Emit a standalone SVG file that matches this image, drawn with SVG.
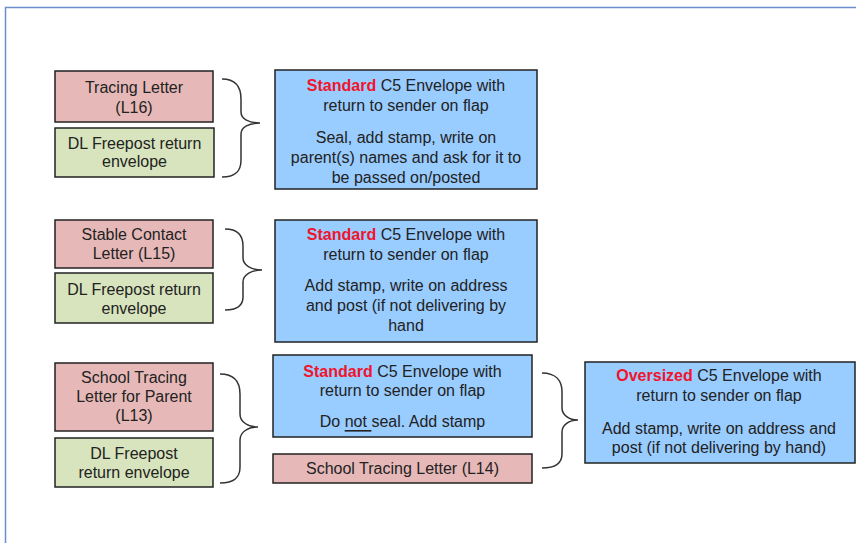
<svg xmlns="http://www.w3.org/2000/svg" width="856" height="543" viewBox="0 0 856 543">
<style>
text{font-family:"Liberation Sans",Arial,sans-serif;font-size:16px;fill:#222;text-anchor:middle;dominant-baseline:central}
.b{stroke:#222;stroke-width:1.5}
.pink{fill:#E6B9B8}
.green{fill:#D7E4BD}
.blue{fill:#99CCFF}
.red{fill:#F0142C;font-weight:bold}
.brace{fill:none;stroke:#333;stroke-width:1.5}
</style>
<rect width="856" height="543" fill="#fff"/>
<path d="M5.5,543 V7.5 H856" fill="none" stroke="#6A8FCC" stroke-width="1.5"/>

<g id="n-l16">
<rect class="b pink" x="55" y="71" width="158" height="51"/>
<text x="134" y="87">Tracing Letter</text>
<text x="134" y="107">(L16)</text>
</g>
<g id="n-dl1">
<rect class="b green" x="55" y="128" width="159" height="49"/>
<text x="134.5" y="143">DL Freepost return</text>
<text x="134.5" y="161">envelope</text>
</g>
<g id="n-env1">
<rect class="b blue" x="275" y="70" width="262" height="119"/>
<text x="406" y="85"><tspan class="red">Standard</tspan> C5 Envelope with</text>
<text x="406" y="105">return to sender on flap</text>
<text x="406" y="137">Seal, add stamp, write on</text>
<text x="406" y="157">parent(s) names and ask for it to</text>
<text x="406" y="177">be passed on/posted</text>
</g>

<g id="n-l15">
<rect class="b pink" x="55" y="220" width="158" height="48"/>
<text x="134" y="234">Stable Contact</text>
<text x="134" y="253">Letter (L15)</text>
</g>
<g id="n-dl2">
<rect class="b green" x="55" y="273" width="158" height="50"/>
<text x="134" y="289">DL Freepost return</text>
<text x="134" y="308">envelope</text>
</g>
<g id="n-env2">
<rect class="b blue" x="275" y="220" width="262" height="122"/>
<text x="406" y="234"><tspan class="red">Standard</tspan> C5 Envelope with</text>
<text x="406" y="254">return to sender on flap</text>
<text x="406" y="285">Add stamp, write on address</text>
<text x="406" y="305">and post (if not delivering by</text>
<text x="406" y="325">hand</text>
</g>

<g id="n-l13">
<rect class="b pink" x="55" y="363" width="158" height="68"/>
<text x="134" y="377">School Tracing</text>
<text x="134" y="396">Letter for Parent</text>
<text x="134" y="415">(L13)</text>
</g>
<g id="n-dl3">
<rect class="b green" x="55" y="438" width="158" height="49"/>
<text x="134" y="453">DL Freepost</text>
<text x="134" y="472">return envelope</text>
</g>
<g id="n-env3">
<rect class="b blue" x="273" y="355" width="259" height="82"/>
<text x="402.5" y="371"><tspan class="red">Standard</tspan> C5 Envelope with</text>
<text x="402.5" y="390">return to sender on flap</text>
<text x="402.5" y="421">Do <tspan text-decoration="underline">not </tspan>seal. Add stamp</text>
</g>
<g id="n-l14">
<rect class="b pink" x="273" y="454" width="259" height="29"/>
<text x="402.5" y="468">School Tracing Letter (L14)</text>
</g>
<g id="n-oversized">
<rect class="b blue" x="585" y="362" width="270" height="101"/>
<text x="719" y="375"><tspan class="red">Oversized</tspan> C5 Envelope with</text>
<text x="719" y="395">return to sender on flap</text>
<text x="719" y="428">Add stamp, write on address and</text>
<text x="719" y="447">post (if not delivering by hand)</text>
</g>

<g id="connectors">
<path class="brace" d="M222,79 C236,79 241,87 241,99 L241,112 C241,119 249,123 260,123 C249,123 241,127 241,134 L241,160 C241,171 236,177 222,177"/>
<path class="brace" d="M225,229 C238,229 243,236 243,246 L243,258 C243,265 251,270 262,270 C251,270 243,275 243,282 L243,297 C243,305 238,310 225,310"/>
<path class="brace" d="M220,374 C234,374 240,382 240,394 L240,414 C240,422 248,427 258,427 C248,427 240,432 240,440 L240,467 C240,478 234,483 220,483"/>
<path class="brace" d="M542,373 C556,373 562,381 562,392 L562,408 C562,415 569,420 578,420 C569,420 562,425 562,432 L562,454 C562,463 556,468 542,468"/>
</g>
</svg>
